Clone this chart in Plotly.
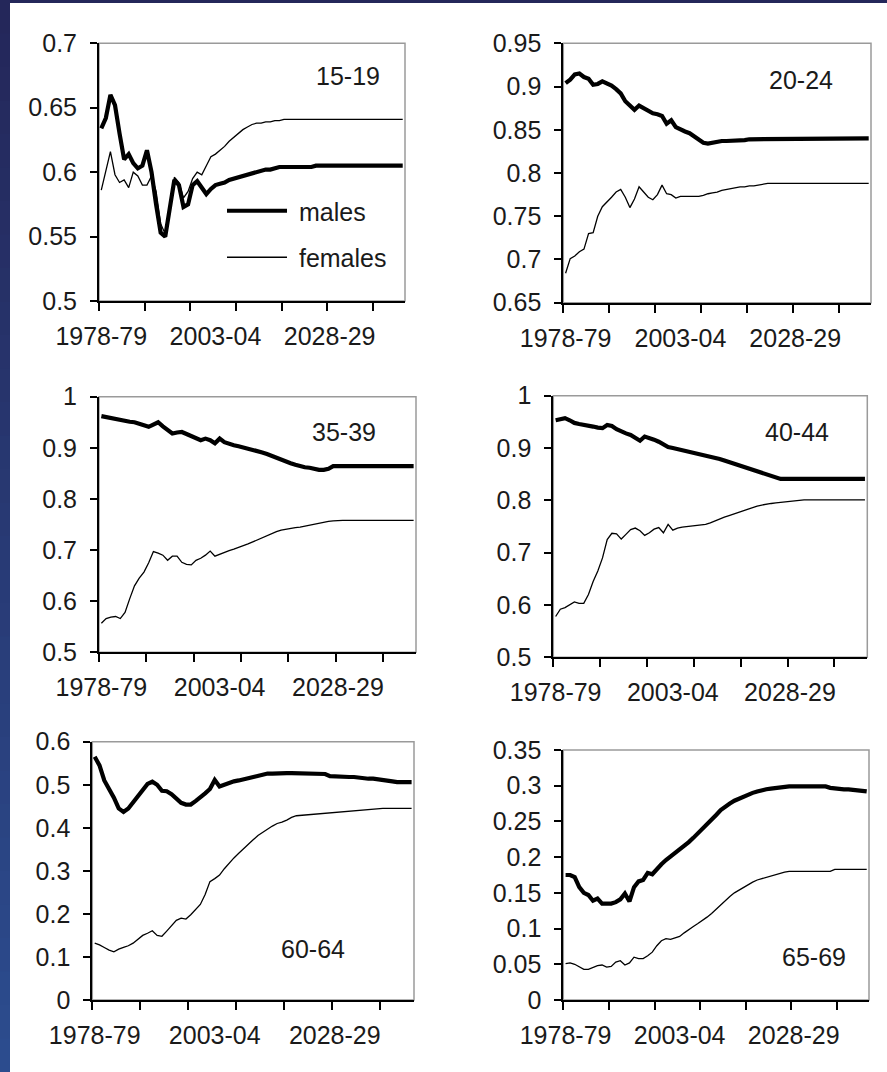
import plotly.graph_objects as go

years = list(range(1978, 2045))
label_years = [1978, 2003, 2028]
label_text = ["1978-79", "2003-04", "2028-29"]
groups = ["15-19", "20-24", "35-39", "40-44", "60-64", "65-69"]

males_15_19 = [0.634, 0.642, 0.660, 0.652, 0.630, 0.610, 0.614, 0.607, 0.603, 0.605,
               0.617, 0.600, 0.575, 0.553, 0.550, 0.570, 0.594, 0.590, 0.573, 0.575,
               0.590, 0.593, 0.588, 0.583, 0.587, 0.590, 0.591, 0.592, 0.594, 0.595,
               0.596, 0.597, 0.598, 0.599, 0.600, 0.601, 0.602, 0.602, 0.603, 0.604,
               0.604, 0.604, 0.604, 0.604, 0.604, 0.604, 0.604, 0.605, 0.605, 0.605,
               0.605, 0.605, 0.605, 0.605, 0.605, 0.605, 0.605, 0.605, 0.605, 0.605,
               0.605, 0.605, 0.605, 0.605, 0.605, 0.605, 0.605]
females_15_19 = [0.586, 0.600, 0.616, 0.598, 0.592, 0.594, 0.588, 0.600, 0.597, 0.590,
                 0.590, 0.597, 0.585, 0.560, 0.552, 0.575, 0.596, 0.592, 0.580, 0.585,
                 0.595, 0.600, 0.598, 0.605, 0.612, 0.614, 0.617, 0.620, 0.624, 0.627,
                 0.630, 0.633, 0.635, 0.637, 0.638, 0.638, 0.639, 0.639, 0.640, 0.640,
                 0.641, 0.641, 0.641, 0.641, 0.641, 0.641, 0.641, 0.641, 0.641, 0.641,
                 0.641, 0.641, 0.641, 0.641, 0.641, 0.641, 0.641, 0.641, 0.641, 0.641,
                 0.641, 0.641, 0.641, 0.641, 0.641, 0.641, 0.641]
males_20_24 = [0.904, 0.908, 0.914, 0.915, 0.911, 0.909, 0.902, 0.903, 0.906, 0.904,
               0.901, 0.897, 0.892, 0.883, 0.878, 0.873, 0.878, 0.875, 0.872, 0.869,
               0.868, 0.866, 0.857, 0.861, 0.853, 0.850, 0.848, 0.846, 0.842, 0.838,
               0.835, 0.834, 0.835, 0.837, 0.837, 0.837, 0.837, 0.837, 0.837, 0.838,
               0.839, 0.839, 0.840, 0.840, 0.840, 0.840, 0.840, 0.840, 0.840, 0.840,
               0.840, 0.840, 0.840, 0.840, 0.840, 0.840, 0.840, 0.840, 0.840, 0.840,
               0.840, 0.840, 0.840, 0.840, 0.840, 0.840, 0.840]
females_20_24 = [0.684, 0.701, 0.704, 0.709, 0.712, 0.730, 0.731, 0.750, 0.761, 0.766,
                 0.772, 0.778, 0.781, 0.772, 0.760, 0.770, 0.784, 0.778, 0.772, 0.769,
                 0.775, 0.786, 0.776, 0.775, 0.771, 0.773, 0.773, 0.773, 0.773, 0.773,
                 0.774, 0.776, 0.777, 0.778, 0.780, 0.781, 0.782, 0.783, 0.784, 0.784,
                 0.785, 0.785, 0.786, 0.787, 0.788, 0.788, 0.788, 0.788, 0.788, 0.788,
                 0.788, 0.788, 0.788, 0.788, 0.788, 0.788, 0.788, 0.788, 0.788, 0.788,
                 0.788, 0.788, 0.788, 0.788, 0.788, 0.788, 0.788]
males_35_39 = [0.962, 0.960, 0.957, 0.955, 0.954, 0.953, 0.951, 0.950, 0.948, 0.944,
               0.941, 0.946, 0.950, 0.942, 0.936, 0.928, 0.930, 0.931, 0.927, 0.923,
               0.918, 0.915, 0.918, 0.915, 0.909, 0.918, 0.911, 0.907, 0.905, 0.903,
               0.901, 0.898, 0.896, 0.894, 0.891, 0.888, 0.884, 0.880, 0.877, 0.873,
               0.870, 0.867, 0.864, 0.862, 0.861, 0.858, 0.857, 0.857, 0.859, 0.864,
               0.864, 0.864, 0.864, 0.864, 0.864, 0.864, 0.864, 0.864, 0.864, 0.864,
               0.864, 0.864, 0.864, 0.864, 0.864, 0.864, 0.864]
females_35_39 = [0.557, 0.566, 0.569, 0.570, 0.566, 0.578, 0.605, 0.630, 0.645, 0.657,
                 0.675, 0.697, 0.694, 0.690, 0.680, 0.688, 0.688, 0.676, 0.672, 0.671,
                 0.680, 0.684, 0.690, 0.698, 0.688, 0.692, 0.696, 0.699, 0.702, 0.705,
                 0.708, 0.712, 0.716, 0.720, 0.725, 0.729, 0.733, 0.736, 0.739, 0.741,
                 0.743, 0.744, 0.745, 0.747, 0.749, 0.750, 0.752, 0.754, 0.756, 0.757,
                 0.758, 0.758, 0.758, 0.758, 0.758, 0.758, 0.758, 0.758, 0.758, 0.758,
                 0.758, 0.758, 0.758, 0.758, 0.758, 0.758, 0.758]
males_40_44 = [0.953, 0.954, 0.957, 0.953, 0.948, 0.946, 0.945, 0.942, 0.941, 0.939,
               0.938, 0.944, 0.942, 0.936, 0.931, 0.928, 0.925, 0.920, 0.914, 0.922,
               0.920, 0.916, 0.912, 0.906, 0.902, 0.900, 0.898, 0.896, 0.894, 0.893,
               0.891, 0.889, 0.887, 0.885, 0.882, 0.879, 0.876, 0.873, 0.870, 0.867,
               0.865, 0.862, 0.859, 0.856, 0.853, 0.849, 0.846, 0.843, 0.841, 0.841,
               0.841, 0.841, 0.841, 0.841, 0.841, 0.841, 0.841, 0.841, 0.841, 0.841,
               0.841, 0.841, 0.841, 0.841, 0.841, 0.841, 0.841]
females_40_44 = [0.578, 0.592, 0.595, 0.600, 0.606, 0.603, 0.603, 0.620, 0.645, 0.665,
                 0.690, 0.725, 0.737, 0.736, 0.726, 0.735, 0.744, 0.747, 0.742, 0.733,
                 0.738, 0.745, 0.748, 0.738, 0.754, 0.743, 0.747, 0.749, 0.750, 0.751,
                 0.752, 0.753, 0.754, 0.757, 0.761, 0.765, 0.768, 0.771, 0.774, 0.777,
                 0.781, 0.784, 0.787, 0.789, 0.791, 0.793, 0.794, 0.795, 0.796, 0.797,
                 0.799, 0.800, 0.801, 0.801, 0.801, 0.801, 0.801, 0.801, 0.801, 0.801,
                 0.801, 0.801, 0.801, 0.801, 0.801, 0.801, 0.801]
males_60_64 = [0.565, 0.545, 0.510, 0.492, 0.470, 0.445, 0.437, 0.445, 0.460, 0.475,
               0.490, 0.502, 0.507, 0.500, 0.486, 0.485, 0.478, 0.467, 0.458, 0.454,
               0.454, 0.462, 0.470, 0.480, 0.490, 0.511, 0.496, 0.500, 0.505, 0.508,
               0.510, 0.513, 0.515, 0.518, 0.521, 0.524, 0.526, 0.526, 0.527, 0.527,
               0.527, 0.527, 0.527, 0.527, 0.527, 0.527, 0.527, 0.526, 0.525, 0.520,
               0.519, 0.519, 0.519, 0.518, 0.518, 0.516, 0.515, 0.514, 0.514, 0.513,
               0.511, 0.510, 0.508, 0.506, 0.506, 0.506, 0.506]
females_60_64 = [0.132, 0.128, 0.122, 0.116, 0.112, 0.118, 0.122, 0.126, 0.132, 0.140,
                 0.150, 0.155, 0.161, 0.150, 0.148, 0.160, 0.172, 0.185, 0.190, 0.188,
                 0.198, 0.210, 0.222, 0.245, 0.275, 0.282, 0.290, 0.305, 0.318, 0.330,
                 0.341, 0.352, 0.362, 0.372, 0.382, 0.390, 0.397, 0.404, 0.410, 0.413,
                 0.418, 0.424, 0.428, 0.429, 0.429, 0.430, 0.431, 0.433, 0.434, 0.435,
                 0.436, 0.436, 0.437, 0.438, 0.439, 0.440, 0.441, 0.442, 0.443, 0.444,
                 0.445, 0.445, 0.445, 0.445, 0.445, 0.445, 0.445]
males_65_69 = [0.175, 0.175, 0.172, 0.158, 0.150, 0.147, 0.139, 0.142, 0.135, 0.135,
               0.135, 0.137, 0.141, 0.149, 0.138, 0.158, 0.166, 0.168, 0.178, 0.176,
               0.184, 0.190, 0.196, 0.201, 0.205, 0.211, 0.216, 0.221, 0.227, 0.233,
               0.239, 0.245, 0.252, 0.259, 0.266, 0.271, 0.275, 0.279, 0.282, 0.285,
               0.288, 0.290, 0.292, 0.294, 0.295, 0.296, 0.297, 0.298, 0.299, 0.299,
               0.299, 0.299, 0.299, 0.299, 0.299, 0.299, 0.299, 0.299, 0.297, 0.296,
               0.295, 0.295, 0.295, 0.294, 0.293, 0.292, 0.292]
females_65_69 = [0.051, 0.052, 0.050, 0.046, 0.043, 0.043, 0.046, 0.048, 0.049, 0.046,
                 0.047, 0.053, 0.055, 0.049, 0.052, 0.060, 0.058, 0.058, 0.062, 0.067,
                 0.076, 0.083, 0.086, 0.085, 0.087, 0.089, 0.094, 0.099, 0.103, 0.107,
                 0.111, 0.116, 0.121, 0.127, 0.134, 0.140, 0.145, 0.150, 0.154, 0.158,
                 0.162, 0.165, 0.168, 0.170, 0.172, 0.173, 0.175, 0.177, 0.179, 0.180,
                 0.180, 0.180, 0.180, 0.180, 0.180, 0.180, 0.180, 0.180, 0.180, 0.183,
                 0.183, 0.183, 0.183, 0.183, 0.183, 0.183, 0.183]

males = [males_15_19, males_20_24, males_35_39, males_40_44, males_60_64, males_65_69]
females = [females_15_19, females_20_24, females_35_39, females_40_44, females_60_64, females_65_69]

y_ranges = [(0.5, 0.7), (0.65, 0.95), (0.5, 1.0), (0.5, 1.0), (0.0, 0.6), (0.0, 0.35)]
y_dticks = [0.05, 0.05, 0.1, 0.1, 0.1, 0.05]

W, H = 887, 1072
# plot-area boxes in pixels: left, right, top, bottom
boxes = [(99, 405, 43.3, 301), (563.3, 871, 43.3, 302.7),
         (99, 416, 396.7, 652.3), (553.3, 867.3, 395.7, 657.3),
         (92.3, 414, 741.7, 1000), (563.3, 869, 750, 1000)]
label_pos = [(0.814, 0.873), (0.771, 0.859), (0.774, 0.863),
             (0.775, 0.862), (0.685, 0.197), (0.82, 0.172)]

FONT = "Liberation Sans, Arial, sans-serif"
TXT = "#1a1a1a"

fig = go.Figure()
layout = dict(
    width=W, height=H, margin=dict(l=0, r=0, t=0, b=0, pad=0, autoexpand=False),
    paper_bgcolor="white", plot_bgcolor="white",
    font=dict(family=FONT, size=25, color=TXT),
    showlegend=True,
    legend=dict(x=222 / W, y=1 - 188 / H, xanchor="left", yanchor="top",
                bgcolor="rgba(0,0,0,0)", font=dict(size=25, color=TXT),
                tracegroupgap=11, itemwidth=60),
)
shapes = []
annotations = []

for i in range(6):
    n = "" if i == 0 else str(i + 1)
    l, r, t, b = boxes[i]
    xa = "x" + n
    ya = "y" + n
    fig.add_trace(go.Scatter(x=years, y=males[i], mode="lines", name=" males",
                             line=dict(color="black", width=4.2),
                             xaxis=xa, yaxis=ya, showlegend=(i == 0),
                             legendgroup="m"))
    fig.add_trace(go.Scatter(x=years, y=females[i], mode="lines", name=" females",
                             line=dict(color="black", width=1.3),
                             xaxis=xa, yaxis=ya, showlegend=(i == 0),
                             legendgroup="f"))
    layout["xaxis" + n] = dict(
        domain=[l / W, r / W], anchor=ya, range=[1977.5, 2044.5],
        tickmode="array", tickvals=label_years, ticktext=label_text,
        ticks="outside", ticklen=0, ticklabelstandoff=12,
        showline=True, linecolor="black", linewidth=2, showgrid=False, zeroline=False,
        tickfont=dict(size=25, color=TXT), automargin=False,
        minor=dict(tick0=1977.5, dtick=10, ticks="outside", ticklen=8,
                   tickwidth=1.6, tickcolor="black", showgrid=False),
        fixedrange=True,
    )
    layout["yaxis" + n] = dict(
        domain=[1 - b / H, 1 - t / H], anchor=xa, range=list(y_ranges[i]),
        tick0=y_ranges[i][0], dtick=y_dticks[i],
        ticks="outside", ticklen=7, tickwidth=1.6, tickcolor="black",
        ticklabelstandoff=8, automargin=False,
        showline=True, linecolor="black", linewidth=2, showgrid=False, zeroline=False,
        tickfont=dict(size=25, color=TXT), fixedrange=True,
    )
    shapes.append(dict(type="rect", xref=xa + " domain", yref=ya + " domain",
                       x0=0, x1=1, y0=0, y1=1, line=dict(color="#9a9a9a", width=1.5),
                       layer="below"))
    annotations.append(dict(text=groups[i], xref=xa + " domain", yref=ya + " domain",
                            x=label_pos[i][0], y=label_pos[i][1], showarrow=False,
                            xanchor="center", yanchor="middle",
                            font=dict(size=25, color=TXT, family=FONT)))

# dark blue slide border (left strip with vertical gradient, top strip)
nseg = 32
c0 = (0x24, 0x27, 0x5a)
c1 = (0x2c, 0x4c, 0x8e)
for k in range(nseg):
    f = k / (nseg - 1)
    col = "rgb(%d,%d,%d)" % tuple(round(a + (bb - a) * f) for a, bb in zip(c0, c1))
    shapes.append(dict(type="rect", xref="paper", yref="paper",
                       x0=0, x1=10 / W, y0=max(0, 1 - (k + 1) / nseg - 0.001),
                       y1=1 - k / nseg,
                       fillcolor=col, line=dict(width=0), layer="above"))
shapes.append(dict(type="rect", xref="paper", yref="paper", x0=0, x1=1,
                   y0=1 - 3 / H, y1=1, fillcolor="rgb(36,39,90)", line=dict(width=0),
                   layer="above"))

layout["shapes"] = shapes
layout["annotations"] = annotations
fig.update_layout(**layout)
fig.write_html("out.html", config={"displayModeBar": False},
               post_script="document.body.style.margin='0';document.body.style.overflow='hidden';")
